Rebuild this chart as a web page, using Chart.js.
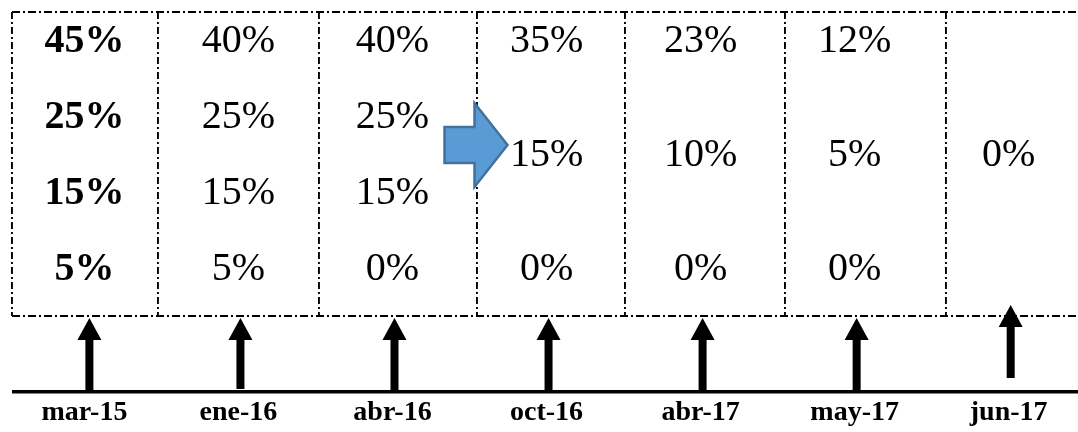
<!DOCTYPE html>
<html><head><meta charset="utf-8">
<script src="https://cdn.jsdelivr.net/npm/chart.js@4.4.1/dist/chart.umd.min.js"></script>
<style>html,body{margin:0;padding:0;background:#fff;overflow:hidden}#wrap{width:1078px;height:432px}</style>
</head><body><div id="wrap"><canvas id="c" width="1078" height="432"></canvas></div>
<script>
// ---- data ----
const dates = ['mar-15', 'ene-16', 'abr-16', 'oct-16', 'abr-17', 'may-17', 'jun-17'];
const ratesMar15 = [45, 25, 15, 5];
const ratesEne16 = [40, 25, 15, 5];
const ratesAbr16 = [40, 25, 15, 0];
const ratesOct16 = [35, 15, 0];
const ratesAbr17 = [23, 10, 0];
const ratesMay17 = [12, 5, 0];
const ratesJun17 = [0];
const columns = [ratesMar15, ratesEne16, ratesAbr16, ratesOct16, ratesAbr17, ratesMay17, ratesJun17];
const gridX = [-0.47, 0.48, 1.52, 2.55, 3.51, 4.55, 5.59];

// build points (column index on x, row slot on y)
const points = [];
columns.forEach((vals, ci) => {
  const n = vals.length;
  vals.forEach((v, k) => {
    const y = n === 1 ? 2.15 : 3.65 - k * 3 / (n - 1);
    points.push({ x: ci, y: y, v: v, bold: ci === 0 });
  });
});

const SERIF = '"Liberation Serif", "Times New Roman", serif';

const decor = {
  id: 'decor',
  afterDatasetsDraw(chart) {
    const { ctx, chartArea, scales } = chart;
    const xs = scales.xl, ys = scales.y;
    ctx.save();
    // percentage texts at the dataset points
    ctx.fillStyle = '#000';
    ctx.textAlign = 'center';
    ctx.textBaseline = 'alphabetic';
    const meta = chart.getDatasetMeta(0);
    meta.data.forEach((el, i) => {
      const p = points[i];
      ctx.font = (p.bold ? 'bold ' : '') + '40px ' + SERIF;
      ctx.fillText(p.v + '%', el.x, el.y + 13.5);
    });
    // timeline
    const lineY = chartArea.bottom + 76;
    ctx.fillRect(chartArea.left, lineY - 2, chartArea.right - chartArea.left, 3.5);
    // up arrows for each date
    dates.forEach((d, i) => {
      const cx = xs.getPixelForValue(i) + (i === 0 ? 5 : 2);
      let tip = chartArea.bottom + 2, bottom = lineY;
      if (i === 1) bottom = lineY - 3;
      if (i === dates.length - 1) { tip = chartArea.bottom - 11; bottom = lineY - 14; }
      const headB = tip + 22;
      ctx.beginPath();
      ctx.moveTo(cx, tip);
      ctx.lineTo(cx + 12, headB);
      ctx.lineTo(cx + 4, headB);
      ctx.lineTo(cx + 4, bottom);
      ctx.lineTo(cx - 4, bottom);
      ctx.lineTo(cx - 4, headB);
      ctx.lineTo(cx - 12, headB);
      ctx.closePath();
      ctx.fill();
    });
    // blue block arrow between abr-16 and oct-16
    const ax = scales.x.getPixelForValue(2.5), ay = ys.getPixelForValue(2.25);
    ctx.beginPath();
    ctx.moveTo(ax - 25, ay - 18);
    ctx.lineTo(ax + 5, ay - 18);
    ctx.lineTo(ax + 5, ay - 42);
    ctx.lineTo(ax + 38, ay);
    ctx.lineTo(ax + 5, ay + 42);
    ctx.lineTo(ax + 5, ay + 18);
    ctx.lineTo(ax - 25, ay + 18);
    ctx.closePath();
    ctx.fillStyle = '#5B9BD5';
    ctx.fill();
    ctx.lineWidth = 2.5;
    ctx.strokeStyle = '#41719C';
    ctx.lineJoin = 'miter';
    ctx.stroke();
    ctx.restore();
  }
};

new Chart(document.getElementById('c'), {
  type: 'scatter',
  data: { datasets: [{ data: points, pointRadius: 0, pointHoverRadius: 0 }] },
  options: {
    responsive: false,
    animation: false,
    events: [],
    devicePixelRatio: 1,
    layout: { padding: { left: 12, right: 0, top: 12, bottom: 6 } },
    plugins: { legend: { display: false }, tooltip: { enabled: false } },
    scales: {
      x: {
        type: 'linear', position: 'top', min: -0.47, max: 6.45,
        afterBuildTicks: s => { s.ticks = gridX.map(v => ({ value: v })); },
        afterFit: s => { s.height = 0; s.paddingLeft = 0; s.paddingRight = 0; },
        ticks: { display: false },
        grid: { color: '#000', lineWidth: 1.9, drawTicks: false },
        border: { display: false, dash: [7, 3, 2, 3] }
      },
      xl: {
        type: 'linear', position: 'bottom', min: -0.47, max: 6.45,
        afterBuildTicks: s => { s.ticks = dates.map((d, i) => ({ value: i })); },
        afterFit: s => { s.height = 110; s.paddingLeft = 0; s.paddingRight = 0; },
        ticks: {
          callback: v => dates[v], color: '#000', padding: 80, maxRotation: 0, autoSkip: false,
          font: { family: SERIF, weight: 'bold', size: 28 }
        },
        grid: { display: false, drawTicks: false },
        border: { display: false }
      },
      y: {
        type: 'linear', min: 0, max: 4,
        afterBuildTicks: s => { s.ticks = [{ value: 0 }, { value: 4 }]; },
        afterFit: s => { s.width = 0; },
        ticks: { display: false },
        grid: { color: '#000', lineWidth: 1.9, drawTicks: false },
        border: { display: false, dash: [8, 3, 2, 3] }
      }
    }
  },
  plugins: [decor]
});
</script>
</body></html>
